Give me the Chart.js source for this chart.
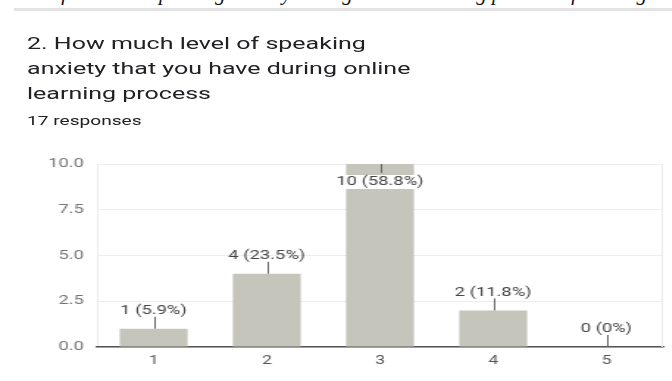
<!DOCTYPE html>
<html>
<head>
<meta charset="utf-8">
<script src="https://cdn.jsdelivr.net/npm/chart.js@4.4.0/dist/chart.umd.min.js"></script>
<style>
  html, body { margin: 0; padding: 0; background: #fff; overflow: hidden; }
  body { width: 672px; height: 381px; position: relative; font-family: Roboto, "Noto Sans", sans-serif; }
  #caption { position: absolute; left: 0; top: -19px; width: 672px; white-space: nowrap; overflow: hidden;
    font-family: "Liberation Serif", serif; font-style: italic; font-size: 21px; line-height: 24px; color: #111; }
  #sep { position: absolute; left: 14px; right: 0; top: 8px; height: 3px; background: #e4e4e4; }
  #wrap { position: absolute; left: 0; top: 0; width: 457px; height: 381px; transform: scaleX(1.47); transform-origin: 0 0; }
  #title { position: absolute; left: 18.4px; top: 31px; font-size: 17px; line-height: 25px; color: #202124; }
  #resp { position: absolute; left: 18.4px; top: 113px; font-size: 13px; color: #202124; }
  #box { position: absolute; left: 0; top: 145px; width: 457px; height: 236px; }
</style>
</head>
<body>
<div id="caption">Level of students' speaking anxiety during online learning process of the English class</div>
<div id="sep"></div>
<div id="wrap">
  <div id="title">2. How much level of speaking<br>anxiety that you have during online<br>learning process</div>
  <div id="resp">17 responses</div>
  <div id="box"><canvas id="chart"></canvas></div>
</div>
<script>
const categories = ["1", "2", "3", "4", "5"];
const counts = [1, 4, 10, 2, 0];
const percents = ["5.9%", "23.5%", "58.8%", "11.8%", "0%"];
const yTicks = [0, 2.5, 5, 7.5, 10];

// value labels with a short leader line, like the Google Forms summary chart
const barLabels = {
  id: "barLabels",
  afterDatasetsDraw(chart) {
    const ctx = chart.ctx;
    const area = chart.chartArea;
    const meta = chart.getDatasetMeta(0);
    ctx.save();
    ctx.font = "12.5px Roboto, sans-serif";
    ctx.textAlign = "center";
    ctx.textBaseline = "middle";
    ctx.strokeStyle = "#666";
    ctx.lineWidth = 1;
    meta.data.forEach((bar, i) => {
      const text = counts[i] + " (" + percents[i] + ")";
      const x = Math.round(bar.x) + 0.5;
      const top = bar.y;
      if (top - 22 > area.top) {
        ctx.beginPath();
        ctx.moveTo(x, top);
        ctx.lineTo(x, top - 12);
        ctx.stroke();
        ctx.fillStyle = "#444";
        ctx.fillText(text, bar.x, top - 18);
      } else {
        ctx.beginPath();
        ctx.moveTo(x, top);
        ctx.lineTo(x, top + 9);
        ctx.stroke();
        const w = ctx.measureText(text).width + 4;
        ctx.fillStyle = "#fff";
        ctx.fillRect(bar.x - w / 2, top + 11, w, 14);
        ctx.fillStyle = "#444";
        ctx.fillText(text, bar.x, top + 18);
      }
    });
    ctx.restore();
  }
};

new Chart(document.getElementById("chart"), {
  type: "bar",
  data: {
    labels: categories,
    datasets: [{
      data: counts,
      backgroundColor: "#c5c5bb",
      borderWidth: 0,
      categoryPercentage: 1,
      barPercentage: 0.6
    }]
  },
  options: {
    responsive: true,
    maintainAspectRatio: false,
    animation: false,
    layout: { padding: { top: 19, right: 6, left: 0, bottom: 0 } },
    plugins: { legend: { display: false }, tooltip: { enabled: false } },
    scales: {
      y: {
        min: 0,
        max: 10,
        afterFit: (s) => { s.width = 66; },
        afterBuildTicks: (s) => { s.ticks = yTicks.map(v => ({ value: v })); },
        ticks: {
          padding: 9,
          color: "#757575",
          font: { family: "Roboto", size: 12.5 },
          callback: (v) => Number(v).toFixed(1)
        },
        grid: { color: "#ececec", drawTicks: false },
        border: { display: true, color: "#ececec" }
      },
      x: {
        afterFit: (s) => { s.height = 34; },
        ticks: {
          padding: 7,
          color: "#555",
          font: { family: "Roboto", size: 12 }
        },
        grid: { display: false, drawTicks: false },
        border: { display: true, color: "#555", width: 1.5 }
      }
    }
  },
  plugins: [barLabels, {
    id: "frame",
    beforeDatasetsDraw(chart) {
      const a = chart.chartArea;
      const ctx = chart.ctx;
      ctx.save();
      ctx.strokeStyle = "#ececec";
      ctx.lineWidth = 1;
      ctx.beginPath();
      ctx.moveTo(a.left, a.top + 0.5);
      ctx.lineTo(a.right - 0.5, a.top + 0.5);
      ctx.lineTo(a.right - 0.5, a.bottom);
      ctx.stroke();
      ctx.restore();
    }
  }]
});
</script>
</body>
</html>
